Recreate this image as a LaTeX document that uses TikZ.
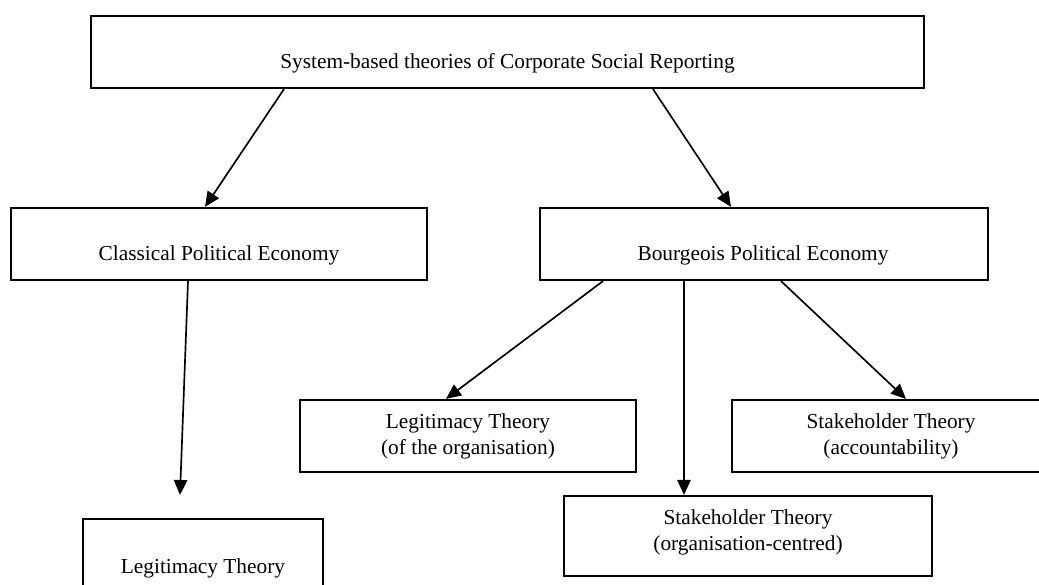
\documentclass[tikz,border=0pt]{standalone}
\usepackage{fontspec}
\setmainfont{Liberation Serif}
\usetikzlibrary{arrows.meta}
\begin{document}
\begin{tikzpicture}[x=0.6pt,y=-0.6pt,
  box/.style={draw, line width=1.3pt, rectangle, inner sep=0pt, minimum height=43.2pt},
  lbl/.style={font=\fontsize{12.8pt}{15.5pt}\selectfont, align=center, inner sep=0pt},
  link/.style={line width=1pt, -{Triangle[length=9pt,width=8pt]}}]
\useasboundingbox (0,0) rectangle (1039,585);
\clip (0,0) rectangle (1039,585);

% boxes
\node[box, minimum width=499.8pt] (top) at (507.5,52) {};
\node[box, minimum width=249.6pt] (cpe) at (219,244) {};
\node[box, minimum width=268.8pt] (bpe) at (764,244) {};
\node[box, minimum width=201.6pt] (lto) at (468,436) {};
\node[box, minimum width=190.8pt] (sta) at (891,436) {};
\node[box, minimum width=220.8pt, minimum height=48pt] (sto) at (748,536) {};
\node[box, minimum width=144pt] (lt) at (203,555) {};

% labels
\node[lbl] (ttop) at (507.5,63) {System-based theories of Corporate Social Reporting};
\node[lbl] (tcpe) at (219,255) {Classical Political Economy};
\node[lbl] (tbpe) at (763,255) {Bourgeois Political Economy};
\node[lbl] (tlto) at (468,436.5) {Legitimacy Theory\\(of the organisation)};
\node[lbl] (tsta) at (891,436.5) {Stakeholder Theory\\(accountability)};
\node[lbl] (tsto) at (748,532) {Stakeholder Theory\\(organisation-centred)};
\node[lbl] (tlt) at (203,568) {Legitimacy Theory};

% connectors
\coordinate (lttip) at (180,495);
\draw[link] (284,0 |- top.south) -- (205,0 |- cpe.north);
\draw[link] (653,0 |- top.south) -- (731,0 |- bpe.north);
\draw[link] (188,0 |- cpe.south) -- (lttip);
\draw[link] (603,0 |- bpe.south) -- (446,0 |- lto.north);
\draw[link] (684,0 |- bpe.south) -- (684,0 |- sto.north);
\draw[link] (781,0 |- bpe.south) -- (906,0 |- sta.north);
\end{tikzpicture}
\end{document}
